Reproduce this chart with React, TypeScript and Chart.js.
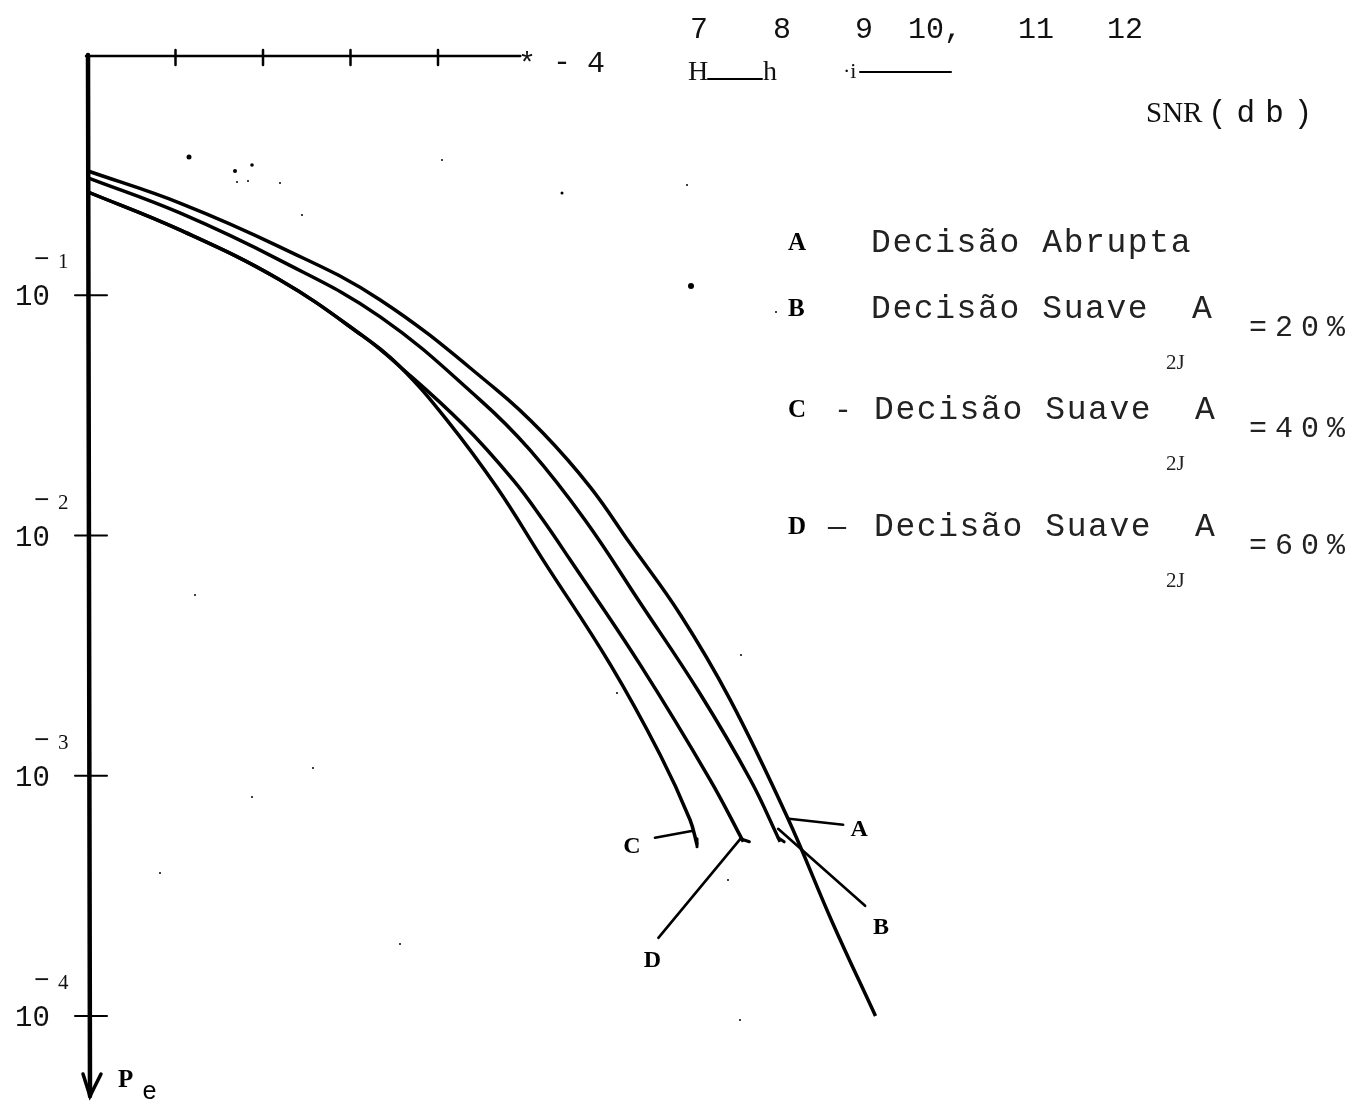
import { useEffect, useRef } from 'react';
import { Chart, registerables } from 'chart.js';

Chart.register(...registerables);

// SNR in dB and error probability Pe for each decision rule
const SNR_A = [0, 1.05, 2.19, 3.34, 4.67, 5.2, 5.74, 6.19, 6.77, 7.34, 7.99, 8.51, 9.0];
const PE_A = [0.329, 0.242, 0.159, 0.0956, 0.0404, 0.0267, 0.0159, 0.00932, 0.00468, 0.00207, 0.000675, 0.000244, 0.0001];

const SNR_B = [0, 1.05, 2.19, 3.34, 4.48, 5.05, 5.68, 6.31, 6.99, 7.57, 7.91];
const PE_B = [0.308, 0.22, 0.14, 0.0813, 0.0367, 0.0227, 0.0116, 0.00525, 0.00221, 0.000962, 0.000531];

const SNR_C = [0, 1.05, 2.19, 3.14, 3.57, 4.1, 4.67, 5.2, 5.97, 6.54, 6.88, 6.96];
const PE_C = [0.269, 0.187, 0.116, 0.0677, 0.0503, 0.0303, 0.0159, 0.00792, 0.0029, 0.00122, 0.000656, 0.000516];

const SNR_D = [0, 1.05, 2.19, 3.14, 3.57, 4.29, 4.86, 5.2, 5.51, 6.31, 7.11, 7.49];
const PE_D = [0.269, 0.187, 0.116, 0.0677, 0.0503, 0.0289, 0.017, 0.0116, 0.00792, 0.0029, 0.000962, 0.000531];

// Axis ticks
const TOP_TICKS_DB = [1, 2, 3, 4];
const PE_TICKS = [1e-1, 1e-2, 1e-3, 1e-4];
const PE_TICK_EXP = ['1', '2', '3', '4'];
const SNR_LABELS = ['7', '8', '9', '10,', '11', '12'];

// Legend text
const LEGEND_KEYS = ['A', 'B', 'C', 'D'];
const LEGEND_SEP = ['', '', '-', '\u2014'];
const LEGEND_TEXT = ['Decisão Abrupta', 'Decisão Suave  A', 'Decisão Suave  A', 'Decisão Suave  A'];
const LEGEND_PCT = ['', '=20%', '=40%', '=60%'];

const toPoints = (xs: number[], ys: number[]) => xs.map((x, i) => ({ x, y: ys[i] }));

const MONO = '"Liberation Mono", "DejaVu Sans Mono", monospace';
const SERIF = '"Liberation Serif", "DejaVu Serif", serif';

const decorPlugin = {
  id: 'decor',
  afterDraw(chart: any) {
    const ctx: CanvasRenderingContext2D = chart.ctx;
    const xs = chart.scales.x;
    const ys = chart.scales.y;
    const X = (v: number) => xs.getPixelForValue(v);
    const Y = (v: number) => ys.getPixelForValue(v);
    const x0 = X(0);
    const yTop = Y(1);

    ctx.save();
    ctx.strokeStyle = '#000';
    ctx.fillStyle = '#000';
    ctx.lineCap = 'round';

    // top SNR axis line with ticks
    ctx.lineWidth = 2.5;
    ctx.beginPath();
    ctx.moveTo(x0 - 2, yTop + 1);
    ctx.lineTo(X(4.94), yTop + 1);
    ctx.stroke();
    TOP_TICKS_DB.forEach((d) => {
      ctx.beginPath();
      ctx.moveTo(X(d), yTop - 5);
      ctx.lineTo(X(d), yTop + 10);
      ctx.stroke();
    });

    // vertical Pe axis with arrow head
    const yBottom = Y(1e-4) + 80;
    ctx.lineWidth = 4.5;
    ctx.beginPath();
    ctx.moveTo(x0, yTop);
    ctx.lineTo(x0 + 2, yBottom);
    ctx.stroke();
    ctx.lineWidth = 3.5;
    ctx.beginPath();
    ctx.moveTo(x0 - 5, yBottom - 22);
    ctx.lineTo(x0 + 2, yBottom);
    ctx.lineTo(x0 + 13, yBottom - 22);
    ctx.stroke();

    // Pe ticks and labels
    ctx.lineWidth = 2;
    ctx.textBaseline = 'alphabetic';
    PE_TICKS.forEach((v, i) => {
      const y = Y(v);
      ctx.beginPath();
      ctx.moveTo(x0 - 13, y);
      ctx.lineTo(x0 + 19, y);
      ctx.stroke();
      ctx.fillStyle = '#111';
      ctx.font = `29px ${MONO}`;
      ctx.textAlign = 'left';
      ctx.fillText('10', 15, y + 10);
      ctx.font = `26px ${MONO}`;
      ctx.fillText('\u2212', 34, y - 28);
      ctx.font = `21px ${SERIF}`;
      ctx.fillText(PE_TICK_EXP[i], 58, y - 27);
    });

    // Pe label
    ctx.fillStyle = '#000';
    ctx.font = `bold 25px ${SERIF}`;
    ctx.fillText('P', 118, yBottom - 9);
    ctx.font = `25px ${MONO}`;
    ctx.fillText('e', 142, yBottom + 3);

    // "* - 4" after the top axis
    ctx.font = `30px ${MONO}`;
    ctx.fillStyle = '#111';
    ctx.fillText('*', 518, yTop + 18);
    ctx.fillText('-', 553, yTop + 16);
    ctx.fillText('4', 587, yTop + 17);

    // SNR tick numbers along the top
    const labelX = [690, 773, 855, 908, 1018, 1107];
    ctx.font = `30px ${MONO}`;
    SNR_LABELS.forEach((t, i) => ctx.fillText(t, labelX[i], 38));

    // marks below the top numbers
    ctx.font = `28px ${SERIF}`;
    ctx.fillText('H', 688, 80);
    ctx.fillText('h', 763, 80);
    ctx.font = `22px ${SERIF}`;
    ctx.fillText('\u00b7i', 843, 78);
    ctx.lineWidth = 2;
    ctx.beginPath();
    ctx.moveTo(708, 79);
    ctx.lineTo(762, 79);
    ctx.moveTo(860, 72);
    ctx.lineTo(951, 72);
    ctx.stroke();

    // SNR(db) axis title
    ctx.font = `29px ${SERIF}`;
    ctx.fillText('SNR', 1146, 122);
    ctx.font = `31px ${MONO}`;
    (ctx as any).letterSpacing = '10px';
    ctx.fillText('(db)', 1208, 122);
    (ctx as any).letterSpacing = '0px';

    // legend
    const rowY = [252, 318, 419, 536];
    rowY.forEach((y, i) => {
      ctx.fillStyle = '#000';
      ctx.font = `bold 25px ${SERIF}`;
      ctx.fillText(LEGEND_KEYS[i], 788, y - 2);
      ctx.fillStyle = '#222';
      if (LEGEND_SEP[i]) {
        ctx.font = `30px ${MONO}`;
        ctx.fillText(LEGEND_SEP[i], i === 3 ? 828 : 834, y);
      }
      ctx.font = `33px ${MONO}`;
      (ctx as any).letterSpacing = '1.6px';
      ctx.fillText(LEGEND_TEXT[i], i < 2 ? 871 : 874, y);
      (ctx as any).letterSpacing = '0px';
      if (LEGEND_PCT[i]) {
        ctx.font = `30px ${MONO}`;
        (ctx as any).letterSpacing = '8px';
        ctx.fillText(LEGEND_PCT[i], 1249, y + 18);
        (ctx as any).letterSpacing = '0px';
        ctx.font = `21px ${SERIF}`;
        ctx.fillText('2J', 1166, y + 51);
      }
    });

    // curve labels with leader lines
    const endA = { x: X(7.99), y: Y(0.000675) };
    const endB = { x: X(7.91), y: Y(0.000531) };
    const endC = { x: X(6.96), y: Y(0.000516) };
    const endD = { x: X(7.49), y: Y(0.000531) };
    ctx.strokeStyle = '#000';
    ctx.lineWidth = 2.6;
    const leader = (p: { x: number; y: number }, a: number[], b: number[]) => {
      ctx.beginPath();
      ctx.moveTo(p.x + a[0], p.y + a[1]);
      ctx.lineTo(p.x + b[0], p.y + b[1]);
      ctx.stroke();
    };
    leader(endA, [56, 8], [2, 2]);
    leader(endB, [85, 64], [-2, -13]);
    leader(endC, [-42, -7], [-4, -14]);
    leader(endD, [-85, 96], [-3, -3]);
    // small feet at the curve ends
    ctx.lineWidth = 3;
    leader(endD, [-3, -3], [6, 0]);
    leader(endB, [-2, -4], [4, 0]);
    leader(endC, [0, -6], [0, 2]);

    ctx.fillStyle = '#000';
    ctx.font = `bold 24px ${SERIF}`;
    ctx.textAlign = 'center';
    ctx.fillText('A', endA.x + 72, endA.y + 19);
    ctx.fillText('B', endB.x + 101, endB.y + 92);
    ctx.fillText('C', endC.x - 65, endC.y + 8);
    ctx.fillText('D', endD.x - 91, endD.y + 125);

    // specks of ink
    const specks = [[189, 157, 2.5], [235, 171, 2], [252, 165, 1.8], [237, 182, 1], [248, 181, 1], [280, 183, 1], [302, 215, 1], [442, 160, 1], [562, 193, 1.5], [687, 185, 1], [691, 286, 3], [776, 312, 1], [195, 595, 1], [313, 768, 1], [252, 797, 1], [160, 873, 1], [400, 944, 1], [740, 1020, 1], [741, 655, 1], [617, 693, 1], [728, 880, 1]];
    specks.forEach(([x, y, r]) => {
      ctx.beginPath();
      ctx.arc(x, y, r, 0, Math.PI * 2);
      ctx.fill();
    });

    ctx.restore();
  },
};

export default function App() {
  const ref = useRef<HTMLCanvasElement>(null);

  useEffect(() => {
    const line = (xs: number[], ys: number[]) => ({
      data: toPoints(xs, ys),
      borderColor: '#000',
      borderWidth: 3.5,
      pointRadius: 0,
      fill: false,
      tension: 0.4,
      clip: false as const,
    });
    const chart = new Chart(ref.current!, {
      type: 'line',
      data: {
        datasets: [
          { label: 'A', ...line(SNR_A, PE_A) },
          { label: 'B', ...line(SNR_B, PE_B) },
          { label: 'C', ...line(SNR_C, PE_C) },
          { label: 'D', ...line(SNR_D, PE_D) },
        ],
      },
      options: {
        responsive: false,
        animation: false,
        layout: { padding: { left: 88, right: 219, top: 55, bottom: 87 } },
        scales: {
          x: { type: 'linear', min: 0, max: 12, display: false },
          y: { type: 'logarithmic', min: 1e-4, max: 1, display: false },
        },
        plugins: { legend: { display: false }, tooltip: { enabled: false } },
      },
      plugins: [decorPlugin],
    });
    return () => chart.destroy();
  }, []);

  return (
    <div style={{ position: 'absolute', left: 0, top: 0, width: 1357, height: 1103, background: '#fff' }}>
      <canvas ref={ref} width={1357} height={1103} style={{ display: 'block', width: 1357, height: 1103 }} />
    </div>
  );
}
